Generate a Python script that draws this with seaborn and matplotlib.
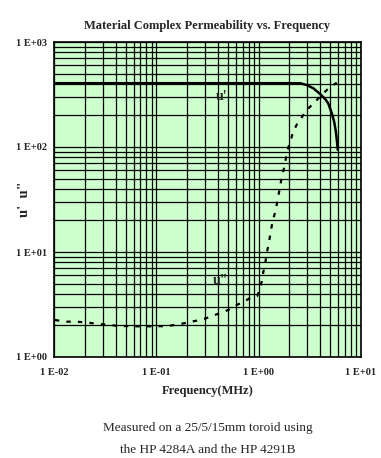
import matplotlib
matplotlib.use("Agg")
import matplotlib.pyplot as plt
import seaborn as sns
import pandas as pd
import numpy as np
from matplotlib.ticker import FixedLocator, FixedFormatter, LogLocator, NullFormatter

# ---- data ----
freq_real = [0.01, 0.1, 1.0, 2.0, 2.54, 2.95, 3.43, 3.98, 4.47, 4.78, 5.19, 5.47, 5.68, 5.80, 5.93]
mu_real = [405, 405, 405, 405, 405, 389, 362, 320, 286, 261, 209, 174, 140, 117, 94]

freq_imag = [0.0102, 0.0133, 0.0167, 0.022, 0.0269, 0.0345, 0.0423, 0.0518, 0.063, 0.0759,
             0.097, 0.126, 0.158, 0.198, 0.248, 0.299, 0.389, 0.502, 0.611, 0.736, 0.824,
             0.964, 1.01, 1.07, 1.11, 1.16, 1.20, 1.26, 1.31, 1.37, 1.47, 1.54, 1.62, 1.68,
             1.78, 1.85, 1.95, 2.03, 2.15, 2.36, 2.64, 2.95, 3.48, 4.63, 5.19, 5.80]
mu_imag = [2.25, 2.17, 2.17, 2.12, 2.06, 2.03, 1.97, 1.97, 1.96, 1.96,
           1.96, 1.97, 2.03, 2.12, 2.22, 2.32, 2.55, 2.80, 3.13, 3.41, 3.65,
           3.81, 4.19, 5.21, 6.45, 7.86, 9.78, 12.3, 15.6, 19.7, 25.1, 32.7, 41.6, 52.1,
           64.1, 79.1, 99.3, 109, 136, 164, 192, 225, 264, 349, 381, 410]

x_ticks = [0.01, 0.1, 1, 10]
x_tick_labels = ["1 E-02", "1 E-01", "1 E+00", "1 E+01"]
y_ticks = [1, 10, 100, 1000]
y_tick_labels = ["1 E+00", "1 E+01", "1 E+02", "1 E+03"]

title = "Material Complex Permeability vs. Frequency"
x_label = "Frequency(MHz)"
y_label = "u'  u\""
caption_lines = ["Measured on a 25/5/15mm toroid using", "the HP 4284A and the HP 4291B"]

# ---- plot ----
sns.set_theme(style="white")
plt.rcParams['font.family'] = ['Liberation Serif', 'DejaVu Serif']

fig = plt.figure(figsize=(3.81, 4.58), dpi=100)
ax = fig.add_axes([54/381, 101/458, 307/381, 315/458])
ax.set_facecolor("#CCFFCC")

df_r = pd.DataFrame({"f": freq_real, "mu": mu_real})
df_i = pd.DataFrame({"f": freq_imag, "mu": mu_imag})

ax.set_xscale("log")
ax.set_yscale("log")

sns.lineplot(data=df_r, x="f", y="mu", ax=ax, color="black", linewidth=1.8, zorder=5)
sns.lineplot(data=df_i, x="f", y="mu", ax=ax, color="black", linewidth=1.6,
             linestyle=(0, (2.0, 3.2)), zorder=5)

ax.set_xlim(0.01, 10)
ax.set_ylim(1, 1000)

ax.xaxis.set_major_locator(FixedLocator(x_ticks))
ax.xaxis.set_major_formatter(FixedFormatter(x_tick_labels))
ax.yaxis.set_major_locator(FixedLocator(y_ticks))
ax.yaxis.set_major_formatter(FixedFormatter(y_tick_labels))
ax.xaxis.set_minor_locator(LogLocator(base=10, subs=np.arange(2, 10)))
ax.yaxis.set_minor_locator(LogLocator(base=10, subs=np.arange(2, 10)))
ax.xaxis.set_minor_formatter(NullFormatter())
ax.yaxis.set_minor_formatter(NullFormatter())

ax.grid(True, which="both", color="black", linewidth=0.9)
ax.set_axisbelow(True)
ax.tick_params(which="both", length=0, labelsize=7.5)
ax.tick_params(axis="x", pad=8)
ax.tick_params(axis="y", pad=5)
for lab in ax.get_xticklabels() + ax.get_yticklabels():
    lab.set_fontweight("bold")

for s in ax.spines.values():
    s.set_color("black")
    s.set_linewidth(1.2)

ax.set_xlabel(x_label, fontsize=9, fontweight="bold", labelpad=6)
ax.set_ylabel("")
fig.text(24/381, 1 - 199/458, y_label, rotation=90, ha="center", va="center",
         fontsize=10.5, fontweight="bold")
ax.set_title(title, fontsize=9, fontweight="bold", pad=9)

ax.text(0.384, 303, "u'", fontsize=10, fontweight="bold", ha="left", va="center", zorder=6)
ax.text(0.358, 5.3, "u\"", fontsize=10, fontweight="bold", ha="left", va="center", zorder=6)

fig.text(208/381, 1 - 428/458, caption_lines[0], ha="center", va="center", fontsize=9.5)
fig.text(208/381, 1 - 450/458, caption_lines[1], ha="center", va="center", fontsize=9.5)

fig.savefig("out.png", dpi=100, facecolor="white")
